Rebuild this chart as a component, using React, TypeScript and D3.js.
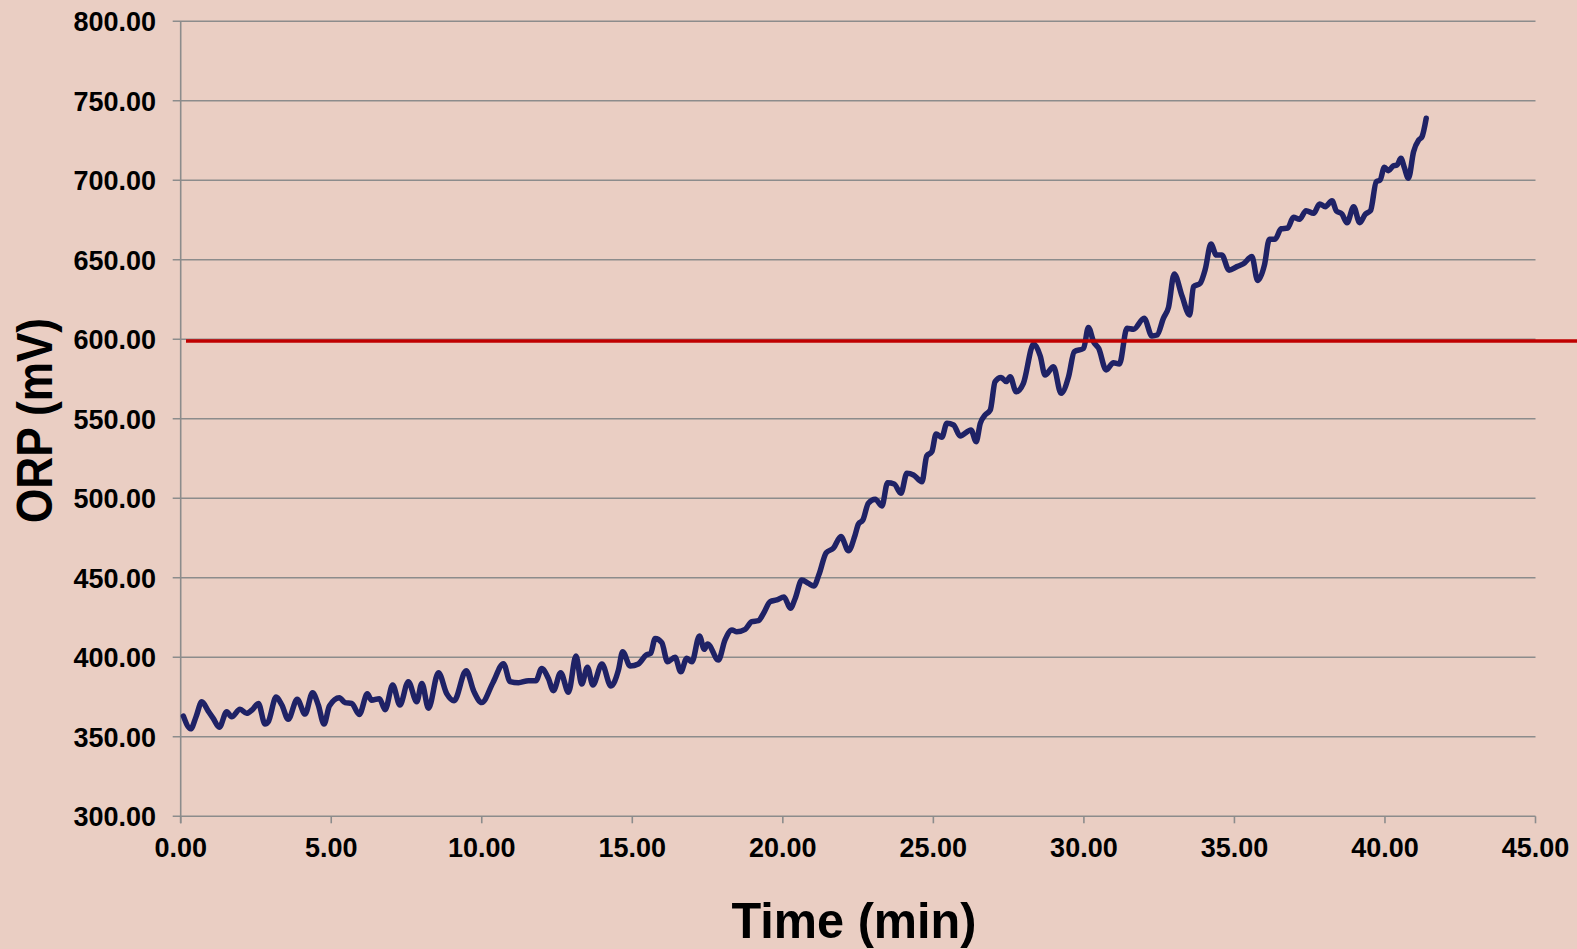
import React from "react";
import * as d3 from "d3";

const timeMin: number[] = [
  0.09, 0.33, 0.51, 0.7, 0.92, 1.08, 1.28, 1.53, 1.69, 1.97, 2.19, 2.39, 2.58, 2.8, 2.91, 3.17, 3.36, 3.57, 3.87, 4.13,
  4.38, 4.57, 4.76, 4.94, 5.27, 5.46, 5.68, 5.93, 6.2, 6.34, 6.6, 6.79, 7.04, 7.28, 7.56, 7.84, 8.01, 8.23, 8.56, 8.84,
  9.08, 9.48, 9.74, 10.0, 10.37, 10.72, 10.94, 11.22, 11.55, 11.8, 11.99, 12.21, 12.38, 12.62, 12.88, 13.13, 13.32, 13.51, 13.69, 13.99,
  14.29, 14.54, 14.68, 14.93, 15.2, 15.46, 15.61, 15.76, 15.98, 16.17, 16.42, 16.61, 16.81, 16.98, 17.23, 17.39, 17.5, 17.86, 18.08, 18.31,
  18.47, 18.75, 18.97, 19.19, 19.36, 19.58, 19.8, 20.04, 20.25, 20.41, 20.63, 20.85, 21.03, 21.2, 21.44, 21.68, 21.93, 22.18, 22.4, 22.51,
  22.66, 22.84, 23.07, 23.29, 23.48, 23.7, 23.92, 24.12, 24.34, 24.62, 24.78, 24.95, 25.09, 25.28, 25.45, 25.67, 25.89, 26.25, 26.42, 26.56,
  26.72, 26.89, 27.05, 27.25, 27.42, 27.55, 27.75, 27.99, 28.33, 28.55, 28.71, 28.99, 29.24, 29.49, 29.68, 29.99, 30.15, 30.32, 30.49, 30.74,
  30.98, 31.18, 31.43, 31.65, 32.0, 32.26, 32.43, 32.64, 32.81, 33.0, 33.26, 33.51, 33.64, 33.86, 34.03, 34.22, 34.4, 34.58, 34.82, 35.08,
  35.3, 35.58, 35.77, 36.0, 36.16, 36.35, 36.55, 36.77, 36.96, 37.16, 37.38, 37.63, 37.83, 38.02, 38.24, 38.38, 38.57, 38.74, 38.96, 39.16,
  39.35, 39.52, 39.71, 39.84, 39.98, 40.12, 40.27, 40.4, 40.53, 40.64, 40.78, 40.95, 41.12, 41.23, 41.37,
];

const orpMv: number[] = [
  363, 355, 362.6, 372, 366, 361.6, 356, 365.8, 362.6, 367.3, 364.8, 367.3, 371, 358, 359.5, 375, 370, 361, 373.6, 364.3,
  377.7, 370, 358, 369.4, 374.6, 371.5, 371, 364, 377, 373, 374, 367, 382.6, 370, 384.7, 372, 383.6, 368, 390.3, 377,
  372.7, 391.6, 378.4, 371.5, 384, 396, 384.7, 384, 385.3, 385.3, 393, 386.8, 379, 390.3, 378, 400.8, 383.2, 393.7, 382.6, 395.8,
  382, 392, 403.5, 394.5, 395.8, 401.4, 402.5, 411.9, 409.2, 397.2, 400, 390.9, 399.4, 397.2, 413.4, 405, 408.4, 398.3, 410.9, 417.2,
  416.1, 417.6, 422.4, 423, 427.7, 435, 436.1, 438, 430.8, 437, 448.6, 446.5, 444.8, 452, 465.8, 468.6, 475.9, 467, 476.9, 483.8,
  486.4, 496.9, 499.4, 495.2, 509.8, 509, 503.1, 515.7, 514.7, 510.4, 526.6, 529.3, 540.4, 538.4, 547.2, 546.1, 539.2, 543, 535.6, 547.2,
  552.4, 555.5, 573.4, 576, 573.4, 576.5, 567, 572.3, 597, 589.5, 577.5, 582.8, 566, 576.5, 592.2, 594.3, 607.5, 598.5, 594.3, 580.7,
  585.3, 584.5, 606.9, 606.3, 613.2, 602.1, 602.7, 613.2, 620.1, 641.1, 627.2, 615.3, 633.1, 635.2, 644, 659.9, 653, 653, 643.5, 645.7,
  647.5, 652, 637, 647, 663, 663, 669.5, 670, 676.7, 675.5, 680.9, 679.2, 685.1, 683.4, 687.2, 680.9, 678.8, 673.3, 683.4, 673.3,
  678.8, 680.9, 699.1, 700.2, 708.2, 706, 709, 709.6, 713.8, 708.2, 701.3, 718, 725.3, 727.4, 739,
];

const xTicks: number[] = [0, 5, 10, 15, 20, 25, 30, 35, 40, 45];
const yTicks: number[] = [300, 350, 400, 450, 500, 550, 600, 650, 700, 750, 800];
const thresholdMv = 599;
const xTitle = "Time (min)";
const yTitle = "ORP (mV)";

const W = 1577;
const H = 949;
const BG = "#EACEC3";
const GRID = "#8C8C8C";
const FONT = "'Liberation Sans', Arial, sans-serif";

export default function App() {
  const x = d3.scaleLinear().domain([0, 45]).range([180.7, 1535.5]);
  const y = d3.scaleLinear().domain([300, 800]).range([816.3, 21.3]);

  const data = timeMin.map((t, i) => ({ t, v: orpMv[i] }));
  const line = d3
    .line<{ t: number; v: number }>()
    .x((d) => x(d.t))
    .y((d) => y(d.v))
    .curve(d3.curveMonotoneX);

  const fmt = d3.format(".2f");

  return (
    <svg
      width={W}
      height={H}
      style={{ position: "absolute", left: 0, top: 0, display: "block" }}
    >
      <rect x={0} y={0} width={W} height={H} fill={BG} />
      {yTicks.map((t) => (
        <line
          key={"g" + t}
          x1={x(0) - 8}
          x2={x(45)}
          y1={y(t)}
          y2={y(t)}
          stroke={GRID}
          strokeWidth={1.6}
        />
      ))}
      <line x1={x(0)} x2={x(0)} y1={y(800)} y2={y(300) + 7} stroke={GRID} strokeWidth={1.6} />
      {xTicks.map((t) => (
        <line
          key={"xt" + t}
          x1={x(t)}
          x2={x(t)}
          y1={y(300)}
          y2={y(300) + 7}
          stroke={GRID}
          strokeWidth={1.6}
        />
      ))}
      {yTicks.map((t) => (
        <text
          key={"yl" + t}
          x={156}
          y={y(t)}
          dy="0.36em"
          textAnchor="end"
          fontFamily={FONT}
          fontWeight="bold"
          fontSize={27}
          fill="#000"
        >
          {fmt(t)}
        </text>
      ))}
      {xTicks.map((t) => (
        <text
          key={"xl" + t}
          x={x(t)}
          y={857}
          textAnchor="middle"
          fontFamily={FONT}
          fontWeight="bold"
          fontSize={27}
          fill="#000"
        >
          {fmt(t)}
        </text>
      ))}
      <path
        d={line(data) || ""}
        fill="none"
        stroke="#1F2266"
        strokeWidth={5.5}
        strokeLinejoin="round"
        strokeLinecap="round"
      />
      <line
        x1={186}
        x2={W}
        y1={y(thresholdMv)}
        y2={y(thresholdMv)}
        stroke="#C00000"
        strokeWidth={3.5}
      />
      <text
        x={854}
        y={938}
        textAnchor="middle"
        fontFamily={FONT}
        fontWeight="bold"
        fontSize={50}
        textLength={245}
        lengthAdjust="spacingAndGlyphs"
        fill="#000"
      >
        {xTitle}
      </text>
      <text
        transform="translate(52,420.5) rotate(-90)"
        textAnchor="middle"
        fontFamily={FONT}
        fontWeight="bold"
        fontSize={50}
        textLength={205}
        lengthAdjust="spacingAndGlyphs"
        fill="#000"
      >
        {yTitle}
      </text>
    </svg>
  );
}
